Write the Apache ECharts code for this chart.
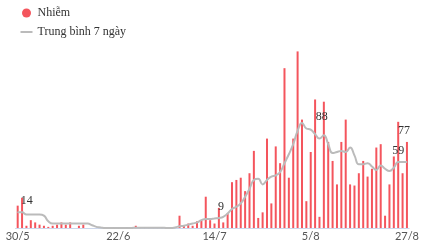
<!DOCTYPE html>
<html>
<head>
<meta charset="utf-8">
<script src="https://cdn.jsdelivr.net/npm/echarts@6/dist/echarts.min.js"></script>
<style>
    html, body { margin: 0; padding: 0; background: #ffffff; }
    #chart { width: 422px; height: 250px; }
</style>
</head>
<body>
<div id="chart"></div>
<script>
// ngày 30/5 -> 27/8
var monthDays = [[5, 30, 31], [6, 1, 30], [7, 1, 31], [8, 1, 27]];
var days = [];
monthDays.forEach(function (m)
{
    for (var d = m[1]; d <= m[2]; d++)
    {
        days.push(d + "/" + m[0]);
    }
});

var tickLabels = ["30/5", "22/6", "14/7", "5/8", "27/8"];

var cases = [
    20, 27, 2, 7, 5, 3, 2, 1, 2, 3, 5, 3, 5, 0, 2, 3,
    0, 0, 0, 0, 0, 0, 0, 0, 0, 0, 0,
    2,
    0, 0, 0, 0, 0, 0, 0, 0, 0,
    11, 2, 4, 2, 6, 7, 28, 7, 4, 18, 5, 13,
    41, 43, 45, 33, 49, 69, 9, 14, 80, 22, 73, 58, 143, 45,
    80, 158, 97, 24, 68, 115, 10, 113, 77, 60, 39, 77, 97, 39, 38,
    49, 60, 46, 53, 72, 75, 11, 39, 64, 95, 49, 77
];

var avg7 = [
    14, 14, 12, 12, 12, 12, 11, 6, 4, 4, 4, 4, 4, 4, 4, 4,
    4, 2.5, 1, 0.5, 0, 0, 0, 0, 0, 0, 0,
    0.3,
    0.3, 0.3, 0.3, 0.3, 0.3, 0.3, 0, 0, 0.5,
    1.5, 2, 3, 4, 5, 7, 8, 8, 8.5, 9, 10, 13,
    17, 19, 22, 28, 35, 43, 44, 39, 43, 46, 47, 50, 58, 66,
    75, 87, 94, 89, 88, 84, 80, 83, 75, 67, 68, 69, 68, 72, 65,
    57, 57, 58, 55, 52, 56, 53, 51, 54, 59, 59, 59
];

// các điểm có ghi số: [chỉ số, dịch x, dịch y]
var avgLabels = [[0, 9, 0], [46, 2, 0], [67, 11, -1], [87, 0, 0]];
var caseLabels = [[89, -3, 0]];

var labelFont = { color: "#333333", fontFamily: "Liberation Serif", fontSize: 12 };

function withLabels(values, marks)
{
    return values.map(function (v, i)
    {
        var item = { value: v };
        marks.forEach(function (m)
        {
            if (m[0] === i)
            {
                item.label = Object.assign({ show: true, position: "top", offset: [m[1], m[2]] }, labelFont);
            }
        });
        return item;
    });
}

var chart = echarts.init(document.getElementById("chart"));

chart.setOption({
    animation: false,
    legend:
    {
        orient: "vertical",
        left: 15.5,
        top: 2,
        itemWidth: 12,
        itemHeight: 9,
        itemGap: 7,
        textStyle: { color: "#333333", fontFamily: "Liberation Serif", fontSize: 12 },
        data: [
            { name: "Nhiễm", icon: "circle" },
            { name: "Trung bình 7 ngày", icon: "path://M0,0 H12 V2 H0 Z", itemStyle: { color: "#bbbbbb" } }
        ]
    },
    grid: { left: 15.5, right: 12.8, top: 38, bottom: 22 },
    xAxis:
    {
        type: "category",
        data: days,
        boundaryGap: true,
        axisLine: { lineStyle: { color: "#ccd6eb", width: 1 } },
        axisTick: { show: false },
        axisLabel:
        {
            interval: function (i, v) { return tickLabels.indexOf(v) >= 0; },
            color: "#555555",
            fontFamily: "Lato",
            fontSize: 11,
            margin: 3
        }
    },
    yAxis:
    {
        type: "value",
        min: 0,
        max: 170,
        show: false,
        splitLine: { show: false }
    },
    series: [
        {
            name: "Nhiễm",
            type: "bar",
            barWidth: 2,
            itemStyle: { color: "#f4555d" },
            data: withLabels(cases, caseLabels),
            z: 2
        },
        {
            name: "Trung bình 7 ngày",
            type: "line",
            smooth: true,
            symbol: "circle",
            symbolSize: 1,
            showSymbol: true,
            lineStyle: { color: "#bbbbbb", width: 2 },
            itemStyle: { color: "#bbbbbb" },
            data: withLabels(avg7, avgLabels),
            z: 3
        }
    ]
});
</script>
</body>
</html>
